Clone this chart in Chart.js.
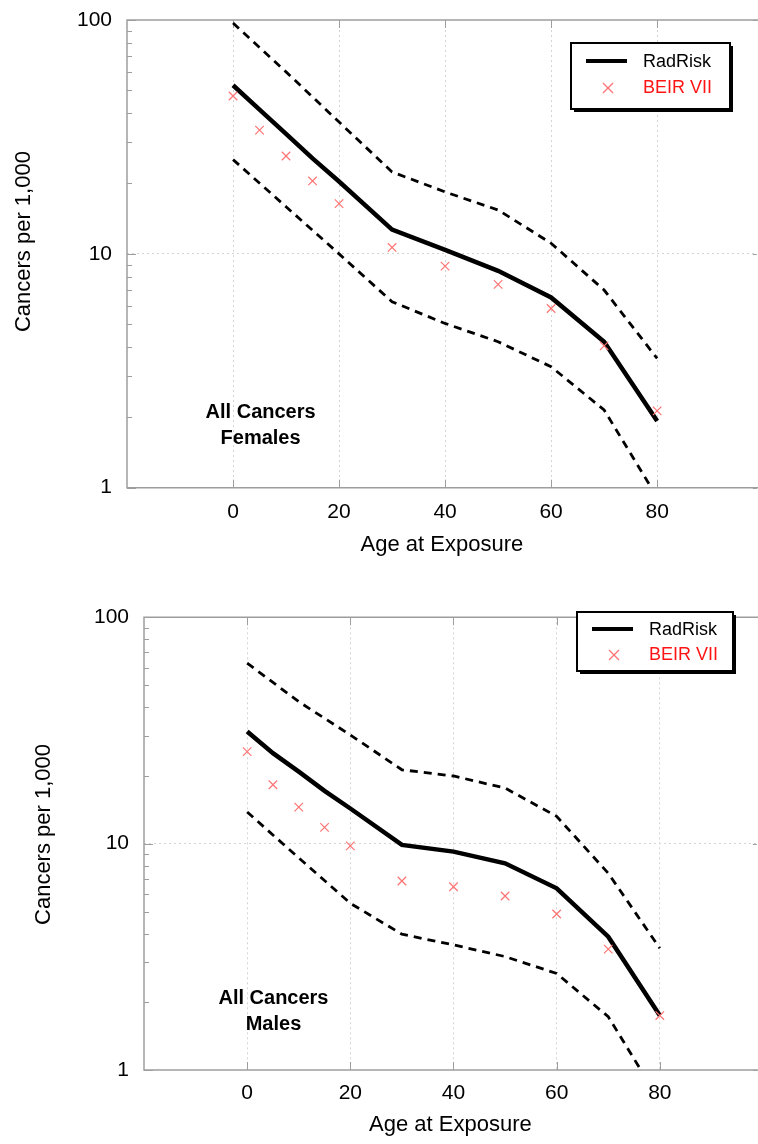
<!DOCTYPE html>
<html>
<head>
<meta charset="utf-8">
<script src="https://cdn.jsdelivr.net/npm/chart.js@4.4.0/dist/chart.umd.min.js"></script>
<style>
html, body { margin: 0; padding: 0; background: #fff; overflow: hidden; width: 758px; height: 1144px; }
canvas { position: absolute; left: 0; }
#female { top: 0; }
#male { top: 572px; }
</style>
</head>
<body>
<canvas id="female" width="764" height="572"></canvas>
<canvas id="male" width="764" height="572"></canvas>
<script>
// ages of the BEIR VII points and of the RadRisk central line
const beirAges = [0, 5, 10, 15, 20, 30, 40, 50, 60, 70, 80];
// ages of the dashed uncertainty bounds
const bandAges = [0, 10, 20, 30, 40, 50, 60, 70, 80];

const femaleRadRisk = [52.6, 41.4, 32.6, 25.6, 20.4, 12.7, 10.4, 8.46, 6.51, 4.21, 1.93];
const femaleBeir = [47.3, 33.8, 26.2, 20.5, 16.4, 10.65, 8.86, 7.40, 5.84, 4.04, 2.13];
const femaleUpper = [97, 60, 36.6, 22.4, 18.4, 15.4, 11.1, 7.0, 3.57];
const femaleLower = [25.3, 15.9, 10.0, 6.24, 5.04, 4.21, 3.29, 2.15, 0.91];

const maleRadRisk = [31.3, 25.1, 20.8, 17.1, 14.3, 9.87, 9.22, 8.19, 6.35, 3.88, 1.74];
const maleBeir = [25.5, 18.2, 14.5, 11.8, 9.77, 6.84, 6.45, 5.87, 4.89, 3.42, 1.74];
const maleUpper = [62.7, 42.4, 30.2, 21.2, 19.9, 17.6, 13.2, 7.4, 3.45];
const maleLower = [13.8, 8.65, 5.45, 3.98, 3.57, 3.17, 2.67, 1.72, 0.73];

const xTickValues = [0, 20, 40, 60, 80];
const yTickValues = [1, 10, 100];
const yMinorValues = [2, 3, 4, 5, 6, 7, 8, 9, 20, 30, 40, 50, 60, 70, 80, 90];

const FONT = "'Liberation Sans', Arial, Helvetica, sans-serif";
const BEIR_COLOR = '#ff7373';
const AXIS_COLOR = '#9e9e9e';

const pairs = (xs, ys) => xs.map((x, i) => ({ x: x, y: ys[i] }));

const line = (ctx, x1, y1, x2, y2) => {
    ctx.beginPath();
    ctx.moveTo(x1, y1);
    ctx.lineTo(x2, y2);
    ctx.stroke();
};

// frame, inward ticks, boxed legend and the "All Cancers" label
const decorPlugin = (cfg) => ({
    id: 'decor',
    beforeDatasetsDraw(chart) {
        const { ctx, chartArea: a, scales } = chart;
        const xs = scales.x, ys = scales.y;
        ctx.save();
        ctx.strokeStyle = AXIS_COLOR;
        ctx.lineWidth = 1.5;
        // the right edge of the frame lies just past the picture
        ctx.beginPath();
        ctx.moveTo(a.right + 6, a.top);
        ctx.lineTo(a.left, a.top);
        ctx.lineTo(a.left, a.bottom);
        ctx.lineTo(a.right + 6, a.bottom);
        ctx.stroke();
        ctx.lineWidth = 1;
        yMinorValues.forEach(v => {
            const py = Math.round(ys.getPixelForValue(v)) + 0.5;
            line(ctx, a.left, py, a.left + 5, py);
        });
        yTickValues.forEach(v => {
            const py = Math.round(ys.getPixelForValue(v)) + 0.5;
            line(ctx, a.left, py, a.left + 9, py);
            line(ctx, a.right - 4, py, a.right, py);
        });
        xTickValues.forEach(v => {
            const px = Math.round(xs.getPixelForValue(v)) + 0.5;
            line(ctx, px, a.bottom, px, a.bottom - 8);
            line(ctx, px, a.top, px, a.top + 8);
        });
        ctx.restore();
    },
    afterDraw(chart) {
        const { ctx, scales } = chart;
        const L = cfg.legend;
        ctx.save();
        // legend box with drop shadow
        ctx.fillStyle = '#000';
        ctx.fillRect(L.x + 3, L.y + 3, L.w, L.h);
        ctx.fillStyle = '#fff';
        ctx.fillRect(L.x, L.y, L.w, L.h);
        ctx.strokeStyle = '#000';
        ctx.lineWidth = 2;
        ctx.strokeRect(L.x, L.y, L.w, L.h);

        ctx.lineWidth = 4;
        line(ctx, L.x + 15, L.y + L.row1, L.x + 56, L.y + L.row1);

        ctx.strokeStyle = BEIR_COLOR;
        ctx.lineWidth = 1.2;
        const mx = L.x + 37, my = L.y + L.row2, r = 5;
        line(ctx, mx - r, my - r, mx + r, my + r);
        line(ctx, mx - r, my + r, mx + r, my - r);

        ctx.font = '18px ' + FONT;
        ctx.textBaseline = 'middle';
        ctx.textAlign = 'left';
        ctx.fillStyle = '#000';
        ctx.fillText('RadRisk', L.x + 72, L.y + L.row1 + 1);
        ctx.fillStyle = '#ff1414';
        ctx.fillText('BEIR VII', L.x + 72, L.y + L.row2);

        // panel label
        ctx.font = 'bold 20px ' + FONT;
        ctx.fillStyle = '#000';
        ctx.textAlign = 'center';
        const lx = scales.x.getPixelForValue(cfg.label.x);
        const ly = scales.y.getPixelForValue(cfg.label.y);
        cfg.label.lines.forEach((t, i) => ctx.fillText(t, lx, ly + i * 26));
        ctx.restore();
    }
});

const makeChart = (id, risk, beir, upper, lower, cfg) => {
    const canvas = document.getElementById(id);
    const dashed = (data) => ({
        data: pairs(bandAges, data),
        borderColor: '#000',
        borderWidth: 2.8,
        borderDash: [8, 6],
        pointRadius: 0,
        fill: false,
        tension: 0,
        order: 3
    });
    return new Chart(canvas, {
        type: 'line',
        data: {
            datasets: [
                {
                    label: 'BEIR VII',
                    data: pairs(beirAges, beir),
                    showLine: false,
                    pointStyle: 'crossRot',
                    pointRadius: 6,
                    pointBorderWidth: 1.2,
                    borderColor: BEIR_COLOR,
                    pointBorderColor: BEIR_COLOR,
                    order: 1
                },
                {
                    label: 'RadRisk',
                    data: pairs(beirAges, risk),
                    borderColor: '#000',
                    borderWidth: 4.5,
                    pointRadius: 0,
                    tension: 0,
                    order: 2
                },
                dashed(upper),
                dashed(lower)
            ]
        },
        options: {
            responsive: false,
            animation: false,
            devicePixelRatio: 1,
            layout: { padding: { top: cfg.top, left: 0, right: 0, bottom: 0 } },
            plugins: { legend: { display: false }, tooltip: { enabled: false } },
            scales: {
                x: {
                    type: 'linear',
                    min: -20,
                    max: 98.8,
                    afterBuildTicks: s => { s.ticks = xTickValues.map(v => ({ value: v })); },
                    afterFit: s => { s.height = cfg.xHeight; s.paddingLeft = 0; s.paddingRight = 0; },
                    grid: { color: '#d4d4d4', lineWidth: 1, drawTicks: false },
                    border: { display: false, dash: [2, 3] },
                    ticks: {
                        padding: cfg.xTickPad,
                        color: '#000',
                        font: { family: FONT, size: 21 },
                        maxRotation: 0,
                        callback: v => String(v)
                    },
                    title: {
                        display: true,
                        text: 'Age at Exposure',
                        color: '#000',
                        font: { family: FONT, size: 22 },
                        padding: { top: 0, bottom: cfg.xTitlePad }
                    }
                },
                y: {
                    type: 'logarithmic',
                    min: 1,
                    max: 100,
                    afterBuildTicks: s => { s.ticks = yTickValues.map(v => ({ value: v, major: true })); },
                    afterFit: s => { s.width = cfg.yWidth; s.paddingTop = 0; s.paddingBottom = 0; },
                    grid: {
                        color: c => (c.tick && c.tick.value === 10 ? '#d4d4d4' : 'rgba(0,0,0,0)'),
                        lineWidth: 1,
                        drawTicks: false
                    },
                    border: { display: false, dash: [2, 3] },
                    ticks: {
                        padding: 15,
                        color: '#000',
                        font: { family: FONT, size: 21 },
                        callback: v => String(v)
                    },
                    title: {
                        display: true,
                        text: cfg.yTitle,
                        color: '#000',
                        font: { family: FONT, size: 22 },
                        padding: { top: cfg.yTitlePad, bottom: 0 }
                    }
                }
            }
        },
        plugins: [decorPlugin(cfg)]
    });
};

makeChart('female', femaleRadRisk, femaleBeir, femaleUpper, femaleLower, {
    top: 20, yWidth: 127, xHeight: 84.3, xTickPad: 11.7, xTitlePad: 13.8, yTitlePad: 10.8,
    yTitle: '    Cancers per 1,000',
    legend: { x: 571, y: 43, w: 159, h: 66, row1: 18, row2: 45 },
    label: { x: 5.2, y: 2.09, lines: ['All Cancers', 'Females'] }
});

makeChart('male', maleRadRisk, maleBeir, maleUpper, maleLower, {
    top: 45.3, yWidth: 144, xHeight: 74, xTickPad: 10.4, xTitlePad: 5.8, yTitlePad: 30.8,
    yTitle: '   Cancers per 1,000',
    legend: { x: 577, y: 40, w: 156, h: 59, row1: 17, row2: 43 },
    label: { x: 5.1, y: 2.06, lines: ['All Cancers', 'Males'] }
});
</script>
</body>
</html>
